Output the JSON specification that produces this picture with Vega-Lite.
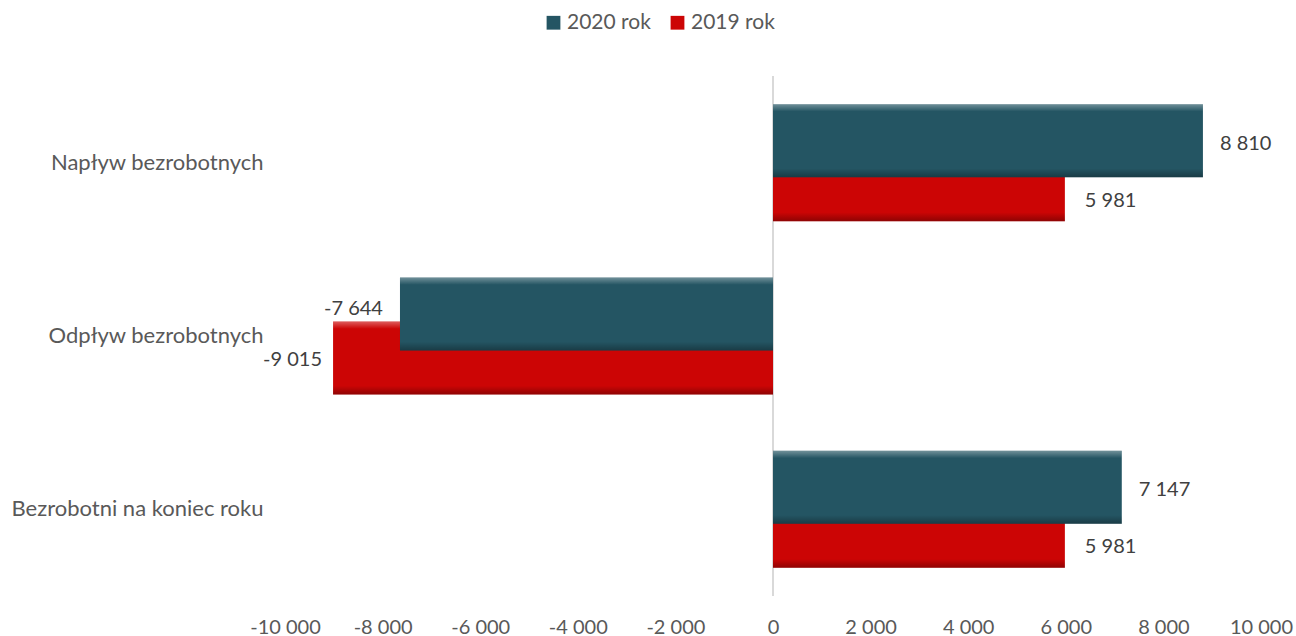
{
  "$schema": "https://vega.github.io/schema/vega-lite/v6.json",
  "width": 976,
  "height": 520,
  "autosize": {"type": "none"},
  "padding": {"left": 285, "top": 76, "right": 35, "bottom": 40},
  "background": "white",
  "config": {
    "view": {"stroke": null},
    "font": "Lato",
    "locale": {"number": {"decimal": ",", "thousands": " ", "grouping": [3], "currency": ["", " zł"], "minus": "-"}}
  },
  "data": {
    "values": [
      {"kategoria": "Napływ bezrobotnych", "rok": "2020 rok", "wartosc": 8810},
      {"kategoria": "Napływ bezrobotnych", "rok": "2019 rok", "wartosc": 5981},
      {"kategoria": "Odpływ bezrobotnych", "rok": "2020 rok", "wartosc": -7644},
      {"kategoria": "Odpływ bezrobotnych", "rok": "2019 rok", "wartosc": -9015},
      {"kategoria": "Bezrobotni na koniec roku", "rok": "2020 rok", "wartosc": 7147},
      {"kategoria": "Bezrobotni na koniec roku", "rok": "2019 rok", "wartosc": 5981}
    ]
  },
  "layer": [
    {
      "mark": {"type": "rule", "color": "#d9d9d9", "strokeWidth": 2},
      "encoding": {"x": {"datum": 0, "type": "quantitative", "scale": {"domain": [-10000, 10000]}}}
    },
    {
      "transform": [{"filter": "datum.rok == '2019 rok'"}],
      "mark": {"type": "bar", "height": 73, "yOffset": 22},
      "encoding": {
        "y": {
          "field": "kategoria", "type": "nominal",
          "sort": ["Napływ bezrobotnych", "Odpływ bezrobotnych", "Bezrobotni na koniec roku"],
          "scale": {"paddingInner": 0, "paddingOuter": 0},
          "axis": {"title": null, "domain": false, "ticks": false, "labelPadding": 22, "labelFontSize": 22, "labelColor": "#595959", "labelLimit": 300}
        },
        "x": {
          "field": "wartosc", "type": "quantitative",
          "scale": {"domain": [-10000, 10000]},
          "axis": {"title": null, "values": [-10000, -8000, -6000, -4000, -2000, 0, 2000, 4000, 6000, 8000, 10000], "format": ",d", "grid": false, "domain": false, "ticks": false, "labelPadding": 21, "labelFontSize": 20, "labelColor": "#595959", "labelFlush": false, "labelOverlap": false}
        },
        "color": {
          "field": "rok", "type": "nominal",
          "scale": {"domain": ["2020 rok", "2019 rok"], "range": ["#245563", "#CC0505"]},
          "legend": {"orient": "none", "legendX": 258, "legendY": -64, "direction": "horizontal", "title": null, "symbolType": "square", "symbolSize": 190, "labelFontSize": 21, "labelColor": "#595959", "symbolStrokeWidth": 0, "columnPadding": 16, "labelOffset": 3}
        }
      }
    },
    {
      "transform": [{"filter": "datum.rok == '2019 rok'"}],
      "mark": {"type": "bar", "height": 73, "yOffset": 22, "fill": {"gradient": "linear", "x1": 0, "y1": 0, "x2": 0, "y2": 1, "stops": [{"offset": 0, "color": "rgba(255,255,255,0.35)"}, {"offset": 0.1, "color": "rgba(255,255,255,0)"}, {"offset": 0.88, "color": "rgba(0,0,0,0)"}, {"offset": 1, "color": "rgba(0,0,0,0.3)"}]}},
      "encoding": {
        "y": {"field": "kategoria", "type": "nominal", "sort": ["Napływ bezrobotnych", "Odpływ bezrobotnych", "Bezrobotni na koniec roku"]},
        "x": {"field": "wartosc", "type": "quantitative"}
      }
    },
    {
      "transform": [{"filter": "datum.rok == '2020 rok'"}],
      "mark": {"type": "bar", "height": 73, "yOffset": -22},
      "encoding": {
        "y": {"field": "kategoria", "type": "nominal", "sort": ["Napływ bezrobotnych", "Odpływ bezrobotnych", "Bezrobotni na koniec roku"]},
        "x": {"field": "wartosc", "type": "quantitative"},
        "color": {"field": "rok", "type": "nominal"}
      }
    },
    {
      "transform": [{"filter": "datum.rok == '2020 rok'"}],
      "mark": {"type": "bar", "height": 73, "yOffset": -22, "fill": {"gradient": "linear", "x1": 0, "y1": 0, "x2": 0, "y2": 1, "stops": [{"offset": 0, "color": "rgba(255,255,255,0.35)"}, {"offset": 0.1, "color": "rgba(255,255,255,0)"}, {"offset": 0.88, "color": "rgba(0,0,0,0)"}, {"offset": 1, "color": "rgba(0,0,0,0.3)"}]}},
      "encoding": {
        "y": {"field": "kategoria", "type": "nominal", "sort": ["Napływ bezrobotnych", "Odpływ bezrobotnych", "Bezrobotni na koniec roku"]},
        "x": {"field": "wartosc", "type": "quantitative"}
      }
    },
    {
      "transform": [{"filter": "datum.rok == '2020 rok' && datum.wartosc > 0"}],
      "mark": {"type": "text", "align": "left", "baseline": "middle", "dx": 17, "yOffset": -19, "fontSize": 20, "color": "#404040"},
      "encoding": {
        "y": {"field": "kategoria", "type": "nominal", "sort": ["Napływ bezrobotnych", "Odpływ bezrobotnych", "Bezrobotni na koniec roku"]},
        "x": {"field": "wartosc", "type": "quantitative"},
        "text": {"field": "wartosc", "type": "quantitative", "format": ",d"}
      }
    },
    {
      "transform": [{"filter": "datum.rok == '2020 rok' && datum.wartosc < 0"}],
      "mark": {"type": "text", "align": "right", "baseline": "middle", "dx": -17, "yOffset": -27, "fontSize": 20, "color": "#404040"},
      "encoding": {
        "y": {"field": "kategoria", "type": "nominal", "sort": ["Napływ bezrobotnych", "Odpływ bezrobotnych", "Bezrobotni na koniec roku"]},
        "x": {"field": "wartosc", "type": "quantitative"},
        "text": {"field": "wartosc", "type": "quantitative", "format": ",d"}
      }
    },
    {
      "transform": [{"filter": "datum.rok == '2019 rok' && datum.wartosc > 0"}],
      "mark": {"type": "text", "align": "left", "baseline": "middle", "dx": 20, "yOffset": 38, "fontSize": 20, "color": "#404040"},
      "encoding": {
        "y": {"field": "kategoria", "type": "nominal", "sort": ["Napływ bezrobotnych", "Odpływ bezrobotnych", "Bezrobotni na koniec roku"]},
        "x": {"field": "wartosc", "type": "quantitative"},
        "text": {"field": "wartosc", "type": "quantitative", "format": ",d"}
      }
    },
    {
      "transform": [{"filter": "datum.rok == '2019 rok' && datum.wartosc < 0"}],
      "mark": {"type": "text", "align": "right", "baseline": "middle", "dx": -11, "yOffset": 24, "fontSize": 20, "color": "#404040"},
      "encoding": {
        "y": {"field": "kategoria", "type": "nominal", "sort": ["Napływ bezrobotnych", "Odpływ bezrobotnych", "Bezrobotni na koniec roku"]},
        "x": {"field": "wartosc", "type": "quantitative"},
        "text": {"field": "wartosc", "type": "quantitative", "format": ",d"}
      }
    }
  ]
}
